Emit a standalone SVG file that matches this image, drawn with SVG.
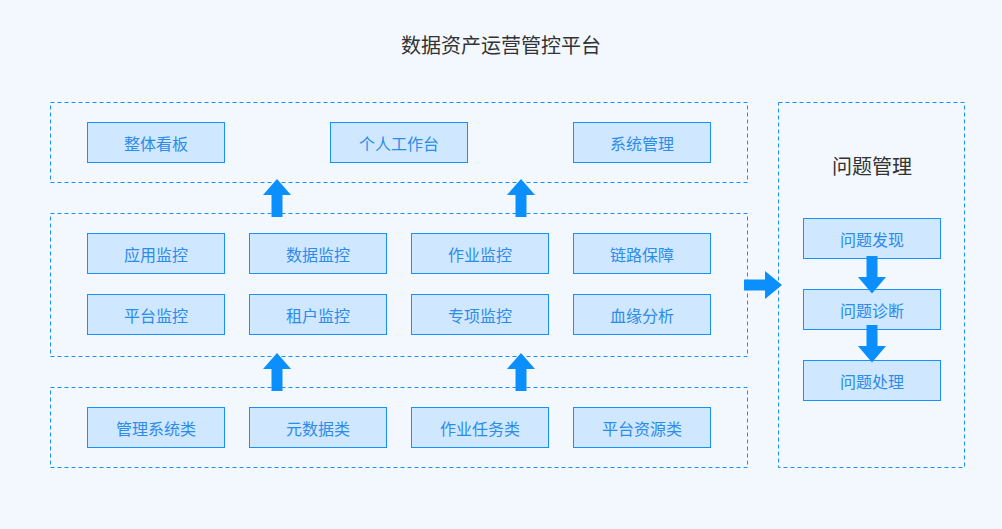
<svg xmlns="http://www.w3.org/2000/svg" width="1002" height="529" viewBox="0 0 1002 529">
<style>
.bg{fill:#f2f8fe}
.grp{fill:none;stroke:#1890ff;stroke-width:1;stroke-dasharray:4 3}
.node rect{fill:#cfe7ff;stroke:#1890ff;stroke-width:1}
.node text{font-family:"Noto Sans CJK SC","Noto Sans",sans-serif;font-size:16px;fill:#2b8cea;text-anchor:middle;dominant-baseline:central}
.title{font-family:"Noto Sans CJK SC","Noto Sans",sans-serif;font-size:20px;fill:#333;text-anchor:middle;dominant-baseline:central}
.arr{fill:#0a8ffd}
</style>
<rect class="bg" x="0" y="0" width="1002" height="529"/>
<text class="title" x="501" y="44">数据资产运营管控平台</text>
<g id="groups">
<rect class="grp" x="50.5" y="102.5" width="697" height="80"/>
<rect class="grp" x="50.5" y="213.5" width="697" height="143"/>
<rect class="grp" x="50.5" y="387.5" width="697" height="80"/>
<rect class="grp" x="778.5" y="102.5" width="186" height="365"/>
</g>
<text class="title" x="872" y="165">问题管理</text>
<g id="n1" class="node"><rect x="87.5" y="122.5" width="137" height="40"/><text x="156" y="142.5">整体看板</text></g>
<g id="n2" class="node"><rect x="330.5" y="122.5" width="137" height="40"/><text x="399" y="142.5">个人工作台</text></g>
<g id="n3" class="node"><rect x="573.5" y="122.5" width="137" height="40"/><text x="642" y="142.5">系统管理</text></g>
<g id="n4" class="node"><rect x="87.5" y="233.5" width="137" height="40"/><text x="156" y="253.5">应用监控</text></g>
<g id="n5" class="node"><rect x="249.5" y="233.5" width="137" height="40"/><text x="318" y="253.5">数据监控</text></g>
<g id="n6" class="node"><rect x="411.5" y="233.5" width="137" height="40"/><text x="480" y="253.5">作业监控</text></g>
<g id="n7" class="node"><rect x="573.5" y="233.5" width="137" height="40"/><text x="642" y="253.5">链路保障</text></g>
<g id="n8" class="node"><rect x="87.5" y="294.5" width="137" height="40"/><text x="156" y="314.5">平台监控</text></g>
<g id="n9" class="node"><rect x="249.5" y="294.5" width="137" height="40"/><text x="318" y="314.5">租户监控</text></g>
<g id="n10" class="node"><rect x="411.5" y="294.5" width="137" height="40"/><text x="480" y="314.5">专项监控</text></g>
<g id="n11" class="node"><rect x="573.5" y="294.5" width="137" height="40"/><text x="642" y="314.5">血缘分析</text></g>
<g id="n12" class="node"><rect x="87.5" y="407.5" width="137" height="40"/><text x="156" y="427.5">管理系统类</text></g>
<g id="n13" class="node"><rect x="249.5" y="407.5" width="137" height="40"/><text x="318" y="427.5">元数据类</text></g>
<g id="n14" class="node"><rect x="411.5" y="407.5" width="137" height="40"/><text x="480" y="427.5">作业任务类</text></g>
<g id="n15" class="node"><rect x="573.5" y="407.5" width="137" height="40"/><text x="642" y="427.5">平台资源类</text></g>
<g id="n16" class="node"><rect x="803.5" y="218.5" width="137" height="40"/><text x="872" y="238.5">问题发现</text></g>
<g id="n17" class="node"><rect x="803.5" y="289.5" width="137" height="40"/><text x="872" y="309.5">问题诊断</text></g>
<g id="n18" class="node"><rect x="803.5" y="360.5" width="137" height="40"/><text x="872" y="380.5">问题处理</text></g>
<g id="connectors">
<polygon class="arr" points="271.5,217 282.5,217 282.5,195 291,195 277,179 263,195 271.5,195"/>
<polygon class="arr" points="515.5,217 526.5,217 526.5,195 535,195 521,179 507,195 515.5,195"/>
<polygon class="arr" points="271.5,391 282.5,391 282.5,369 291,369 277,353 263,369 271.5,369"/>
<polygon class="arr" points="515.5,391 526.5,391 526.5,369 535,369 521,353 507,369 515.5,369"/>
<polygon class="arr" points="744,279.5 765,279.5 765,271 782,285 765,299 765,290.5 744,290.5"/>
<polygon class="arr" points="866.5,256 877.5,256 877.5,277 886,277 872,293.5 858,277 866.5,277"/>
<polygon class="arr" points="866.5,325 877.5,325 877.5,346 886,346 872,362.5 858,346 866.5,346"/>
</g>
</svg>
